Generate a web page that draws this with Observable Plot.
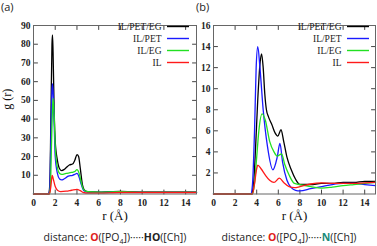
<!DOCTYPE html>
<html><head><meta charset="utf-8">
<script src="https://cdn.jsdelivr.net/npm/d3@7"></script>
<script src="https://cdn.jsdelivr.net/npm/@observablehq/plot@0.6"></script>
<style>
html,body{margin:0;padding:0;background:#fff;}
#wrap{position:relative;width:377px;height:246px;overflow:hidden;}
#wrap svg{position:absolute;background:transparent;overflow:visible;}
.lab{position:absolute;font-family:"Open Sans",sans-serif;font-size:11px;color:#222;white-space:nowrap;}
.cap{position:absolute;font-family:"Open Sans",sans-serif;font-size:10.5px;color:#222;white-space:nowrap;transform:translateX(-50%);}
.cap b{font-weight:700;}
</style></head>
<body><div id="wrap"></div>
<script>
// ---- data ----
const seriesNames = ["IL/PET/EG", "IL/PET", "IL/EG", "IL"];

// panel (a): O([PO4])...HO([Ch])
const aR_ILPETEG = [0,1.4,1.5,1.6,1.7,1.75,1.8,1.9,2.0,2.2,2.4,2.6,2.8,3.0,3.3,3.6,3.8,4.0,4.15,4.3,4.5,4.7,5.0,6.0,7.0,8.0,9.0,10,12,15];
const aG_ILPETEG = [0,0,5,40,80,85,76,45,28,18,13.5,12.5,13,14,15.5,16,18,21,20,14,5,2,1.2,1,1.2,1.4,1.2,1,1,1];
const aR_ILPET = [0,1.4,1.5,1.6,1.7,1.75,1.85,2.0,2.2,2.4,2.6,2.8,3.2,3.6,3.8,4.0,4.2,4.4,4.6,5.0,6,8,10,12,15];
const aG_ILPET = [0,0,3,30,55,59,48,20,11,8,7.5,8,9.5,10,10.5,11,9,5,2,1,0.9,1.1,1,1,1];
const aR_ILEG = [0,1.45,1.55,1.65,1.75,1.8,1.9,2.0,2.2,2.4,2.6,3.0,3.5,3.8,4.0,4.2,4.4,4.6,5.0,6,8,10,12,15];
const aG_ILEG = [0,0,3,25,46,51,42,25,14,11,10.5,11,11.5,12,13,11,6,2.5,1.2,1,1.2,1,1,1];
const aR_IL = [0,1.45,1.55,1.65,1.72,1.8,2.0,2.2,2.5,3.0,3.5,4.0,4.3,4.6,5.0,6,8,10,12,15];
const aG_IL = [0,0,2,7,10,8.5,4,2,1.3,1.5,2,2.5,1.8,0.8,0.5,0.5,0.8,0.8,0.8,0.8];

// panel (b): O([PO4])...N([Ch])
const bR_ILPETEG = [0,3.5,3.7,3.9,4.1,4.3,4.45,4.6,4.75,4.9,5.1,5.4,5.7,5.95,6.25,6.5,6.8,7.2,7.6,8.0,9,10,11,12,13,14,15];
const bG_ILPETEG = [0,0,0.8,4.5,9,12.3,13.3,12,9.5,8,7.3,6.6,5.8,5.5,6.1,5,3.5,2.3,1.4,0.9,0.9,1.0,1.0,1.1,1.1,1.2,1.2];
const bR_ILPET = [0,3.45,3.6,3.8,3.95,4.1,4.3,4.6,5.0,5.5,5.9,6.15,6.4,6.8,7.2,7.6,8.0,9,10,11,12,13,14,15];
const bG_ILPET = [0,0,0.8,6,12,14,12,8,4.5,2.3,3.5,4.8,3,1.3,0.6,0.35,0.3,0.5,0.7,0.9,1.0,1.0,0.9,0.8];
const bR_ILEG = [0,3.6,3.8,4.0,4.2,4.5,4.8,5.2,5.6,5.9,6.3,6.6,7.0,7.5,8.0,9,10,11,12,13,14,15];
const bG_ILEG = [0,0,1,3.5,6,7.6,7,5,4,3.6,3.8,2.8,1.8,1.0,0.9,0.7,0.55,0.65,0.8,0.9,1.0,1.1];
const bR_IL = [0,3.6,3.8,4.0,4.1,4.4,4.8,5.2,5.6,6.1,6.5,7.0,7.5,8,9,10,11,12,13,14,15];
const bG_IL = [0,0,1,2.4,2.75,2.4,1.8,1.3,1.1,1.5,1.1,0.7,0.6,0.7,0.95,1.05,1.0,1.0,1.0,1.05,1.1];

const xTicks = [0,2,4,6,8,10,12,14];
const aYTicks = [10,20,30,40,50,60,70,80,90];
const bYTicks = [2,4,6,8,10,12,14,16];

// ---- styles ----
const colors = ["#000000", "#1a1aff", "#22e022", "#ff1a1a"];
const tickFont = '"Liberation Serif", serif';
const tickShape = {draw(ctx, l) { ctx.moveTo(0, 0); ctx.lineTo(0, -l); }};

function rows(rs, gs, name) { return rs.map((r, i) => ({r, g: gs[i], s: name})); }

function build(series, yMax, yTicks, opts) {
  const data = series.flatMap(([rs, gs], k) => rows(rs, gs, seriesNames[k]));
  const marks = [];
  const common = {fontFamily: tickFont, fontSize: 9.5, fontWeight: "bold", fill: "#222"};
  marks.push(Plot.axisY(yTicks, {anchor: "left", tickSize: 0, tickPadding: 3, ...common, label: null}));
  marks.push(Plot.axisX(xTicks, {anchor: "bottom", tickSize: 0, tickPadding: 5, ...common, label: null}));
  const tk = {length: 4, shape: tickShape, anchor: "start", stroke: "#444", strokeWidth: 1};
  marks.push(Plot.vector(yTicks, {x: 0, y: d => d, rotate: 90, ...tk}));
  marks.push(Plot.vector(yTicks, {x: 15, y: d => d, rotate: -90, ...tk}));
  marks.push(Plot.vector(xTicks, {x: d => d, y: 0, rotate: 0, ...tk}));
  marks.push(Plot.vector(xTicks, {x: d => d, y: yMax, rotate: 180, ...tk}));
  seriesNames.forEach((name, k) => {
    marks.push(Plot.line(data.filter(d => d.s === name), {x: "r", y: "g", stroke: colors[k], strokeWidth: 1.3, curve: "monotone-x"}));
  });
  marks.push(Plot.frame({stroke: "#666", strokeWidth: 1}));
  marks.push(Plot.text(["r (Å)"], {frameAnchor: "bottom", dy: 26, fontFamily: tickFont, fontSize: 13, fill: "#111"}));
  if (opts.ylabel) marks.push(Plot.text([opts.ylabel], {frameAnchor: "left", dx: -26, rotate: -90, fontFamily: tickFont, fontSize: 12, fill: "#111"}));
  const svg = Plot.plot({
    width: opts.width, height: 246,
    marginLeft: 33, marginRight: opts.marginRight, marginTop: 25, marginBottom: 246 - opts.bottom,
    x: {domain: [0, 15], axis: null},
    y: {domain: [0, yMax], axis: null},
    style: {background: "transparent", overflow: "visible"},
    marks
  });
  svg.style.left = opts.left + "px";
  svg.style.top = "0px";
  return svg;
}

function legend(rightX) {
  const svg = Plot.plot({
    width: 120, height: 36, margin: 0,
    x: {domain: [0, 1], axis: null},
    y: {domain: seriesNames, axis: null, padding: 0},
    color: {domain: seriesNames, range: colors},
    style: {background: "transparent", overflow: "visible"},
    marks: [
      Plot.text(seriesNames, {y: d => d, frameAnchor: "right", dx: -28, textAnchor: "end",
        fontFamily: tickFont, fontSize: 9.5, fill: "#222"}),
      Plot.ruleY(seriesNames, {y: d => d, stroke: d => d, strokeWidth: 1.4, insetLeft: 98})
    ]
  });
  svg.style.left = (rightX - 120) + "px";
  svg.style.top = "25.5px";
  return svg;
}

const wrap = document.getElementById("wrap");
wrap.appendChild(build([[aR_ILPETEG, aG_ILPETEG], [aR_ILPET, aG_ILPET], [aR_ILEG, aG_ILEG], [aR_IL, aG_IL]], 90, aYTicks,
  {width: 200, marginRight: 4, left: 0, bottom: 193.5, ylabel: "g (r)"}));
wrap.appendChild(build([[bR_ILPETEG, bG_ILPETEG], [bR_ILPET, bG_ILPET], [bR_ILEG, bG_ILEG], [bR_IL, bG_IL]], 16, bYTicks,
  {width: 197, marginRight: 2, left: 180, bottom: 193.5}));
wrap.appendChild(legend(189));
wrap.appendChild(legend(369));

function addLabel(text, x, y) {
  const d = document.createElement("div"); d.className = "lab"; d.textContent = text;
  d.style.left = x + "px"; d.style.top = y + "px"; wrap.appendChild(d);
}
addLabel("(a)", 1, -1);
addLabel("(b)", 196, -1);

function addCaption(html, cx) {
  const d = document.createElement("div"); d.className = "cap"; d.innerHTML = html;
  d.style.left = cx + "px"; d.style.top = "230px"; wrap.appendChild(d);
}
addCaption('distance: <b style="color:#e0201a">O</b>([PO<sub style="font-size:7px">4</sub>])·····<b>HO</b>([Ch])', 115);
addCaption('distance: <b style="color:#e0201a">O</b>([PO<sub style="font-size:7px">4</sub>])·····<b style="color:#1a8a7a">N</b>([Ch])', 289);
</script></body></html>
